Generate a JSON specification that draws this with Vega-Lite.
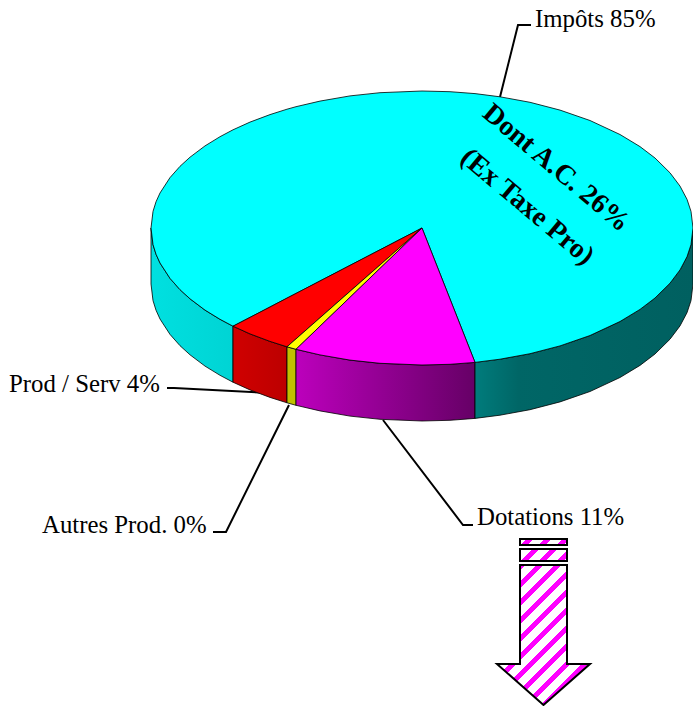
{
"$schema":"https://vega.github.io/schema/vega-lite/v6.json",
"width":693,"height":706,"padding":0,
"autosize":{"type":"fit","contains":"padding"},
"background":"white",
"config":{"view":{"stroke":null}},
"datasets":{
"slices":[
{"part":"Impots","x":151,"y":228,"y2":228},{"part":"Impots","x":153,"y":211.4,"y2":244.6},{"part":"Impots","x":156,"y":201.8,"y2":254.2},{"part":"Impots","x":160,"y":193,"y2":263},{"part":"Impots","x":170,"y":177.6,"y2":278.4},{"part":"Impots","x":180,"y":166.3,"y2":289.7},{"part":"Impots","x":190,"y":157.2,"y2":298.8},{"part":"Impots","x":205,"y":145.9,"y2":310.1},{"part":"Impots","x":220,"y":136.7,"y2":319.3},{"part":"Impots","x":233,"y":129.8,"y2":326.2},{"part":"Impots","x":250,"y":122.1,"y2":317.4},{"part":"Impots","x":270,"y":114.6,"y2":307},{"part":"Impots","x":287,"y":109.2,"y2":298.1},{"part":"Impots","x":296,"y":106.7,"y2":293.5},{"part":"Impots","x":320,"y":101.1,"y2":281},{"part":"Impots","x":350,"y":95.9,"y2":265.4},{"part":"Impots","x":380,"y":92.7,"y2":249.8},{"part":"Impots","x":422,"y":91,"y2":228},{"part":"Impots","x":450,"y":91.7,"y2":299},{"part":"Impots","x":475,"y":93.6,"y2":362.4},{"part":"Impots","x":500,"y":96.8,"y2":359.2},{"part":"Impots","x":530,"y":102.3,"y2":353.7},{"part":"Impots","x":560,"y":110.1,"y2":345.9},{"part":"Impots","x":590,"y":120.5,"y2":335.5},{"part":"Impots","x":620,"y":134.5,"y2":321.5},{"part":"Impots","x":640,"y":146.6,"y2":309.4},{"part":"Impots","x":655,"y":158,"y2":298},{"part":"Impots","x":670,"y":172.8,"y2":283.2},{"part":"Impots","x":680,"y":186.1,"y2":269.9},{"part":"Impots","x":687,"y":199.3,"y2":256.7},{"part":"Impots","x":691,"y":211.4,"y2":244.6},{"part":"Impots","x":693,"y":228,"y2":228},
{"part":"Prod","x":233,"y":326.2,"y2":326.2},{"part":"Prod","x":250,"y":317.4,"y2":333.9},{"part":"Prod","x":270,"y":307,"y2":341.4},{"part":"Prod","x":287,"y":298.1,"y2":346.8},{"part":"Prod","x":422,"y":228,"y2":228},
{"part":"Autres","x":287,"y":346.8,"y2":346.8},{"part":"Autres","x":296,"y":338.9,"y2":349.3},{"part":"Autres","x":422,"y":228,"y2":228},
{"part":"Dotations","x":296,"y":349.3,"y2":349.3},{"part":"Dotations","x":320,"y":326.2,"y2":354.9},{"part":"Dotations","x":350,"y":297.3,"y2":360.1},{"part":"Dotations","x":380,"y":268.4,"y2":363.3},{"part":"Dotations","x":422,"y":228,"y2":365},{"part":"Dotations","x":450,"y":299,"y2":364.3},{"part":"Dotations","x":475,"y":362.4,"y2":362.4},
{"part":"ImpotsSideL","x":151,"y":228,"y2":284},{"part":"ImpotsSideL","x":153,"y":244.6,"y2":300.6},{"part":"ImpotsSideL","x":156,"y":254.2,"y2":310.2},{"part":"ImpotsSideL","x":160,"y":263,"y2":319},{"part":"ImpotsSideL","x":170,"y":278.4,"y2":334.4},{"part":"ImpotsSideL","x":180,"y":289.7,"y2":345.7},{"part":"ImpotsSideL","x":190,"y":298.8,"y2":354.8},{"part":"ImpotsSideL","x":205,"y":310.1,"y2":366.1},{"part":"ImpotsSideL","x":220,"y":319.3,"y2":375.3},{"part":"ImpotsSideL","x":233,"y":326.2,"y2":382.2},
{"part":"ProdSide","x":233,"y":326.2,"y2":382.2},{"part":"ProdSide","x":250,"y":333.9,"y2":389.9},{"part":"ProdSide","x":270,"y":341.4,"y2":397.4},{"part":"ProdSide","x":287,"y":346.8,"y2":402.8},
{"part":"AutresSide","x":287,"y":346.8,"y2":402.8},{"part":"AutresSide","x":296,"y":349.3,"y2":405.3},
{"part":"DotationsSide","x":296,"y":349.3,"y2":405.3},{"part":"DotationsSide","x":320,"y":354.9,"y2":410.9},{"part":"DotationsSide","x":350,"y":360.1,"y2":416.1},{"part":"DotationsSide","x":380,"y":363.3,"y2":419.3},{"part":"DotationsSide","x":422,"y":365,"y2":421},{"part":"DotationsSide","x":450,"y":364.3,"y2":420.3},{"part":"DotationsSide","x":475,"y":362.4,"y2":418.4},
{"part":"ImpotsSideR","x":475,"y":362.4,"y2":418.4},{"part":"ImpotsSideR","x":500,"y":359.2,"y2":415.2},{"part":"ImpotsSideR","x":530,"y":353.7,"y2":409.7},{"part":"ImpotsSideR","x":560,"y":345.9,"y2":401.9},{"part":"ImpotsSideR","x":590,"y":335.5,"y2":391.5},{"part":"ImpotsSideR","x":620,"y":321.5,"y2":377.5},{"part":"ImpotsSideR","x":640,"y":309.4,"y2":365.4},{"part":"ImpotsSideR","x":655,"y":298,"y2":354},{"part":"ImpotsSideR","x":670,"y":283.2,"y2":339.2},{"part":"ImpotsSideR","x":680,"y":269.9,"y2":325.9},{"part":"ImpotsSideR","x":687,"y":256.7,"y2":312.7},{"part":"ImpotsSideR","x":691,"y":244.6,"y2":300.6},{"part":"ImpotsSideR","x":693,"y":228,"y2":284}
],
"arrow":[
{"part":"bar1","x":520,"y":539,"y2":545},{"part":"bar1","x":567,"y":539,"y2":545},
{"part":"bar2","x":520,"y":549,"y2":561},{"part":"bar2","x":567,"y":549,"y2":561},
{"part":"shaft","x":497,"y":664,"y2":664},{"part":"shaft","x":520,"y":664,"y2":684.3},{"part":"shaft","x":520,"y":565,"y2":684.3},{"part":"shaft","x":543.5,"y":565,"y2":705},{"part":"shaft","x":567,"y":565,"y2":684.3},{"part":"shaft","x":567,"y":664,"y2":684.3},{"part":"shaft","x":590,"y":664,"y2":664}
],
"leaders":[
{"name":"Impots","i":1,"x":531,"y":25},{"name":"Impots","i":2,"x":518,"y":25},{"name":"Impots","i":3,"x":500,"y":97},
{"name":"Prod","i":1,"x":167,"y":388},{"name":"Prod","i":2,"x":174,"y":388},{"name":"Prod","i":3,"x":260,"y":392.5},
{"name":"Autres","i":1,"x":213,"y":532},{"name":"Autres","i":2,"x":226,"y":532},{"name":"Autres","i":3,"x":289,"y":405},
{"name":"Dotations","i":1,"x":383,"y":420},{"name":"Dotations","i":2,"x":463,"y":525},{"name":"Dotations","i":3,"x":473,"y":525}
],
"labels":[
{"t":"Impôts 85%","x":535,"y":27},{"t":"Prod / Serv 4%","x":9,"y":392},{"t":"Autres Prod. 0%","x":42,"y":533},{"t":"Dotations 11%","x":477,"y":525}
],
"notes":[
{"t":"Dont A.C. 26%","x":556,"y":168},{"t":"(Ex Taxe Pro)","x":527,"y":207}
]
},
"encoding":{
"x":{"field":"x","type":"quantitative","axis":null,"scale":{"domain":[0,693],"range":[0,693],"nice":false,"zero":false}},
"y":{"field":"y","type":"quantitative","axis":null,"scale":{"domain":[0,706],"range":[0,706],"nice":false,"zero":false}}
},
"layer":[
{"data":{"name":"leaders"},"mark":{"type":"line","stroke":"#000000","strokeWidth":2,"strokeJoin":"miter"},"encoding":{"detail":{"field":"name"},"order":{"field":"i"}}},
{"data":{"name":"slices"},"transform":[{"filter":"datum.part==='ImpotsSideL'"}],"mark":{"type":"area","stroke":"#000000","strokeWidth":0.8,"fill":{"gradient":"linear","x1":0,"y1":0,"x2":1,"y2":0,"stops":[{"offset":0,"color":"#00e0e0"},{"offset":1,"color":"#00d4d4"}]}},"encoding":{"y2":{"field":"y2"}}},
{"data":{"name":"slices"},"transform":[{"filter":"datum.part==='ProdSide'"}],"mark":{"type":"area","stroke":"#000000","strokeWidth":0.8,"fill":{"gradient":"linear","x1":0,"y1":0,"x2":1,"y2":0,"stops":[{"offset":0,"color":"#d00000"},{"offset":1,"color":"#bc0000"}]}},"encoding":{"y2":{"field":"y2"}}},
{"data":{"name":"slices"},"transform":[{"filter":"datum.part==='AutresSide'"}],"mark":{"type":"area","stroke":"#000000","strokeWidth":0.8,"fill":"#c0c000"},"encoding":{"y2":{"field":"y2"}}},
{"data":{"name":"slices"},"transform":[{"filter":"datum.part==='DotationsSide'"}],"mark":{"type":"area","stroke":"#000000","strokeWidth":0.8,"fill":{"gradient":"linear","x1":0,"y1":0,"x2":1,"y2":0,"stops":[{"offset":0,"color":"#bc00bc"},{"offset":1,"color":"#660066"}]}},"encoding":{"y2":{"field":"y2"}}},
{"data":{"name":"slices"},"transform":[{"filter":"datum.part==='ImpotsSideR'"}],"mark":{"type":"area","stroke":"#000000","strokeWidth":0.8,"fill":{"gradient":"linear","x1":0,"y1":0,"x2":1,"y2":0,"stops":[{"offset":0,"color":"#007c7c"},{"offset":0.2,"color":"#006666"},{"offset":1,"color":"#006060"}]}},"encoding":{"y2":{"field":"y2"}}},
{"data":{"name":"slices"},"transform":[{"filter":"datum.part==='Impots'"}],"mark":{"type":"area","stroke":"#000000","strokeWidth":0.8,"fill":"#00ffff"},"encoding":{"y2":{"field":"y2"}}},
{"data":{"name":"slices"},"transform":[{"filter":"datum.part==='Prod'"}],"mark":{"type":"area","stroke":"#000000","strokeWidth":0.8,"fill":"#ff0000"},"encoding":{"y2":{"field":"y2"}}},
{"data":{"name":"slices"},"transform":[{"filter":"datum.part==='Autres'"}],"mark":{"type":"area","stroke":"#000000","strokeWidth":0.8,"fill":"#ffff00"},"encoding":{"y2":{"field":"y2"}}},
{"data":{"name":"slices"},"transform":[{"filter":"datum.part==='Dotations'"}],"mark":{"type":"area","stroke":"#000000","strokeWidth":0.8,"fill":"#ff00ff"},"encoding":{"y2":{"field":"y2"}}},
{"data":{"name":"arrow"},"transform":[{"filter":"datum.part==='bar1'"}],"mark":{"type":"area","stroke":"#000000","strokeWidth":2,"fill":{"gradient":"linear","x1":0,"y1":0,"x2":1.1096,"y2":0.1416,"stops":[{"offset":0,"color":"#ffffff"},{"offset":0.1226,"color":"#ffffff"},{"offset":0.1226,"color":"#ff00ff"},{"offset":0.2547,"color":"#ff00ff"},{"offset":0.2547,"color":"#ffffff"},{"offset":0.4623,"color":"#ffffff"},{"offset":0.4623,"color":"#ff00ff"},{"offset":0.5943,"color":"#ff00ff"},{"offset":0.5943,"color":"#ffffff"},{"offset":0.8019,"color":"#ffffff"},{"offset":0.8019,"color":"#ff00ff"},{"offset":0.934,"color":"#ff00ff"},{"offset":0.934,"color":"#ffffff"},{"offset":1,"color":"#ffffff"}]}},"encoding":{"y2":{"field":"y2"}}},
{"data":{"name":"arrow"},"transform":[{"filter":"datum.part==='bar2'"}],"mark":{"type":"area","stroke":"#000000","strokeWidth":2,"fill":{"gradient":"linear","x1":0,"y1":0,"x2":1.1785,"y2":0.3009,"stops":[{"offset":0,"color":"#ffffff"},{"offset":0.2119,"color":"#ffffff"},{"offset":0.2119,"color":"#ff00ff"},{"offset":0.3305,"color":"#ff00ff"},{"offset":0.3305,"color":"#ffffff"},{"offset":0.5169,"color":"#ffffff"},{"offset":0.5169,"color":"#ff00ff"},{"offset":0.6356,"color":"#ff00ff"},{"offset":0.6356,"color":"#ffffff"},{"offset":0.822,"color":"#ffffff"},{"offset":0.822,"color":"#ff00ff"},{"offset":0.9407,"color":"#ff00ff"},{"offset":0.9407,"color":"#ffffff"},{"offset":1,"color":"#ffffff"}]}},"encoding":{"y2":{"field":"y2"}}},
{"data":{"name":"arrow"},"transform":[{"filter":"datum.part==='shaft'"}],"mark":{"type":"area","stroke":"#000000","strokeWidth":2,"fill":{"gradient":"linear","x1":0,"y1":0,"x2":0.7671,"y2":1.1547,"stops":[{"offset":0,"color":"#ffffff"},{"offset":0.015,"color":"#ffffff"},{"offset":0.015,"color":"#ff00ff"},{"offset":0.0451,"color":"#ff00ff"},{"offset":0.0451,"color":"#ffffff"},{"offset":0.0923,"color":"#ffffff"},{"offset":0.0923,"color":"#ff00ff"},{"offset":0.1223,"color":"#ff00ff"},{"offset":0.1223,"color":"#ffffff"},{"offset":0.1695,"color":"#ffffff"},{"offset":0.1695,"color":"#ff00ff"},{"offset":0.1996,"color":"#ff00ff"},{"offset":0.1996,"color":"#ffffff"},{"offset":0.2468,"color":"#ffffff"},{"offset":0.2468,"color":"#ff00ff"},{"offset":0.2768,"color":"#ff00ff"},{"offset":0.2768,"color":"#ffffff"},{"offset":0.324,"color":"#ffffff"},{"offset":0.324,"color":"#ff00ff"},{"offset":0.3541,"color":"#ff00ff"},{"offset":0.3541,"color":"#ffffff"},{"offset":0.4013,"color":"#ffffff"},{"offset":0.4013,"color":"#ff00ff"},{"offset":0.4313,"color":"#ff00ff"},{"offset":0.4313,"color":"#ffffff"},{"offset":0.4785,"color":"#ffffff"},{"offset":0.4785,"color":"#ff00ff"},{"offset":0.5086,"color":"#ff00ff"},{"offset":0.5086,"color":"#ffffff"},{"offset":0.5558,"color":"#ffffff"},{"offset":0.5558,"color":"#ff00ff"},{"offset":0.5858,"color":"#ff00ff"},{"offset":0.5858,"color":"#ffffff"},{"offset":0.633,"color":"#ffffff"},{"offset":0.633,"color":"#ff00ff"},{"offset":0.6631,"color":"#ff00ff"},{"offset":0.6631,"color":"#ffffff"},{"offset":0.7103,"color":"#ffffff"},{"offset":0.7103,"color":"#ff00ff"},{"offset":0.7403,"color":"#ff00ff"},{"offset":0.7403,"color":"#ffffff"},{"offset":0.7876,"color":"#ffffff"},{"offset":0.7876,"color":"#ff00ff"},{"offset":0.8176,"color":"#ff00ff"},{"offset":0.8176,"color":"#ffffff"},{"offset":0.8648,"color":"#ffffff"},{"offset":0.8648,"color":"#ff00ff"},{"offset":0.8948,"color":"#ff00ff"},{"offset":0.8948,"color":"#ffffff"},{"offset":0.9421,"color":"#ffffff"},{"offset":0.9421,"color":"#ff00ff"},{"offset":0.9721,"color":"#ff00ff"},{"offset":0.9721,"color":"#ffffff"},{"offset":1,"color":"#ffffff"}]}},"encoding":{"y2":{"field":"y2"}}},
{"data":{"name":"labels"},"mark":{"type":"text","font":"Liberation Serif","fontSize":24.8,"align":"left","baseline":"alphabetic","color":"#000000"},"encoding":{"text":{"field":"t"}}},
{"data":{"name":"notes"},"mark":{"type":"text","font":"Liberation Serif","fontSize":28,"fontWeight":"bold","align":"center","baseline":"middle","angle":40,"color":"#000000"},"encoding":{"text":{"field":"t"}}}
]
}
